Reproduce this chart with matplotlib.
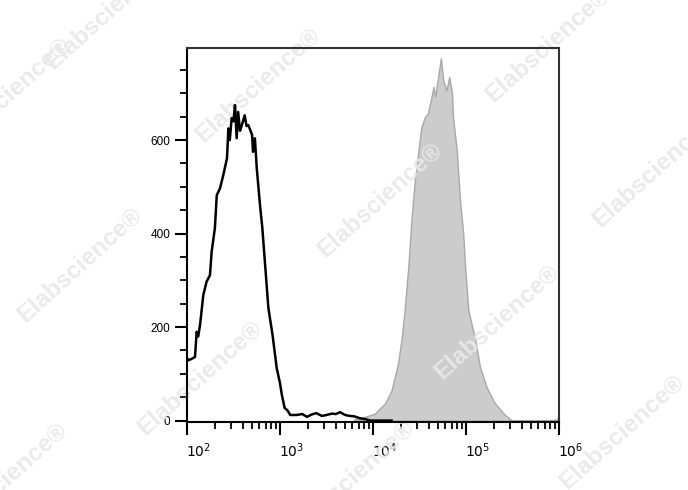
import numpy as np
import matplotlib
matplotlib.use('Agg')
import matplotlib.pyplot as plt
import matplotlib.transforms as mtransforms
from matplotlib.ticker import FixedLocator, LogLocator, NullFormatter

plt.rcParams['font.family'] = ['Liberation Sans', 'DejaVu Sans']

# 对照（黑线），log10 荧光强度 与 计数
ctrl_log = [2.0, 2.014, 2.05, 2.086, 2.104, 2.12, 2.14, 2.175, 2.21, 2.247, 2.265,
            2.30, 2.32, 2.355, 2.39, 2.43, 2.445, 2.46, 2.48, 2.50, 2.516, 2.534,
            2.55, 2.57, 2.59, 2.62, 2.64, 2.66, 2.70, 2.71, 2.73, 2.75, 2.785,
            2.81, 2.84, 2.875, 2.92, 2.965, 3.0, 3.02, 3.05, 3.08, 3.11, 3.18,
            3.24, 3.29, 3.34, 3.39, 3.45, 3.50, 3.56, 3.60, 3.645, 3.70, 3.75,
            3.80, 3.86, 3.92, 3.97, 4.05, 4.2]
ctrl_cnt = [134, 129, 132, 136, 190, 180, 204, 268, 297, 311, 361,
            412, 482, 497, 525, 561, 625, 600, 647, 640, 675, 604,
            660, 620, 632, 653, 630, 632, 611, 575, 604, 540, 461,
            412, 333, 241, 183, 112, 80, 55, 27, 22, 12, 12,
            14, 8, 13, 16, 10, 12, 15, 14, 18, 12, 10,
            9, 5, 3, 0, 0, 0]

# 染色样本（灰色填充）
stain_log = [3.80, 3.914, 4.02, 4.13, 4.20, 4.27, 4.31, 4.34, 4.38, 4.416, 4.45,
             4.49, 4.52, 4.56, 4.59, 4.63, 4.65, 4.67, 4.70, 4.73, 4.755, 4.79,
             4.82, 4.85, 4.86, 4.90, 4.935, 4.97, 4.99, 5.025, 5.10, 5.15, 5.22,
             5.31, 5.42, 5.49, 5.6, 5.8, 5.98, 6.0]
stain_cnt = [3, 8, 15, 37, 65, 123, 179, 236, 329, 436, 514,
             579, 628, 650, 657, 693, 714, 693, 735, 775, 728, 707,
             735, 700, 650, 579, 472, 401, 329, 236, 172, 115, 72,
             37, 12, 1, 0, 0, 2, 15]

y_major = [0, 200, 400, 600]
x_major = [1e2, 1e3, 1e4, 1e5, 1e6]
x_labels = ['$10^{2}$', '$10^{3}$', '$10^{4}$', '$10^{5}$', '$10^{6}$']

# 水印位置（像素）
wm_xy = [(108, 12), (8, 95), (258, 85), (548, 45), (380, 200), (80, 265),
         (655, 170), (200, 378), (497, 322), (622, 432), (352, 478), (5, 480)]

fig = plt.figure(figsize=(6.88, 4.9), dpi=100)
ax = fig.add_axes([187 / 688, 68 / 490, 372 / 688, 374 / 490])

ax.fill_between(10 ** np.array(stain_log), stain_cnt, 0, facecolor='#cccccc',
                edgecolor='#a8a8a8', linewidth=1.0, zorder=1)
ax.plot(10 ** np.array(ctrl_log), ctrl_cnt, color='black', linewidth=1.8,
        zorder=3)

for (px, py) in wm_xy:
    ax.text(px / 688, 1 - py / 490, 'Elabscience\u00ae', transform=fig.transFigure,
            rotation=42, ha='center', va='center', fontsize=17.5,
            fontweight='bold', color='#e8e8e8', alpha=0.9, clip_on=False,
            zorder=2)

ax.set_xscale('log')
ax.set_xlim(1e2, 1e6)
ax.set_ylim(-3, 797)

ax.xaxis.set_major_locator(FixedLocator(x_major))
ax.set_xticklabels(x_labels)
ax.xaxis.set_minor_locator(LogLocator(base=10, subs=np.arange(2, 10), numticks=20))
ax.xaxis.set_minor_formatter(NullFormatter())
ax.yaxis.set_major_locator(FixedLocator(y_major))
ax.yaxis.set_minor_locator(FixedLocator(np.arange(0, 800, 50)))

ax.tick_params(axis='both', which='major', length=9, width=1.5, direction='out',
               labelsize=8.5, pad=3)
ax.tick_params(axis='both', which='minor', length=5, width=1.3, direction='out')
ax.tick_params(axis='x', which='major', labelsize=10, pad=5)

offset = mtransforms.ScaledTranslation(0.12, 0, fig.dpi_scale_trans)
for lab in ax.get_xticklabels():
    lab.set_transform(lab.get_transform() + offset)

for s in ax.spines.values():
    s.set_linewidth(1.5)
ax.spines['top'].set_color('#333333')
ax.spines['right'].set_color('#333333')

fig.savefig('out.png', dpi=100)
